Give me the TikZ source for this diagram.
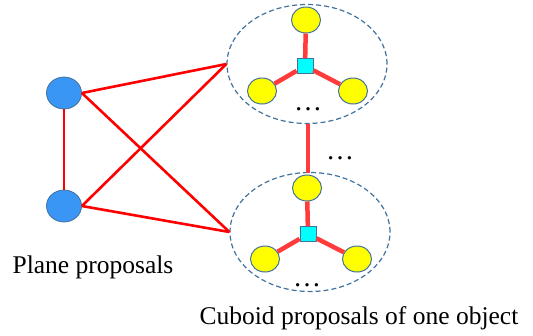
\documentclass[tikz,border=0pt]{standalone}
\usepackage{fontspec}
\setmainfont{Liberation Serif}
\usetikzlibrary{shapes.geometric}
\definecolor{edgeblue}{HTML}{41719C}
\definecolor{planeblue}{HTML}{3A96F5}
\definecolor{linkred}{HTML}{FF0000}
\definecolor{cubred}{HTML}{FF3B3B}
\definecolor{hubcyan}{HTML}{00FFFF}
\definecolor{cornyellow}{HTML}{FFFF00}
\begin{document}
\begin{tikzpicture}[x=1pt,y=-1pt,
  plane/.style={ellipse,draw=edgeblue,fill=planeblue,line width=0.8pt,minimum width=35pt,minimum height=32pt,inner sep=0pt},
  corner/.style={ellipse,draw=edgeblue,fill=cornyellow,line width=1pt,minimum width=29pt,minimum height=26pt,inner sep=0pt},
  hub/.style={rectangle,draw=edgeblue,fill=hubcyan,line width=0.8pt,minimum width=16pt,minimum height=15pt,inner sep=0pt},
  group/.style={ellipse,draw=edgeblue,dash pattern=on 5pt off 3pt,line width=1.2pt,minimum width=160pt,minimum height=119pt,inner sep=0pt},
  rel/.style={linkred,line width=2.6pt},
  arm/.style={cubred,line width=4.5pt},
  dots/.style={font=\fontsize{28}{28}\selectfont,inner sep=0pt,anchor=base},
  label/.style={font=\fontsize{25.5}{28}\selectfont,inner sep=0pt}]
\useasboundingbox (0,0) rectangle (533,335);
% object groups
\node[group] (g1) at (307,64) {};
\node[group] (g2) at (310,232) {};
% first cuboid proposal
\node[hub] (h1) at (305,66) {};
\node[corner] (a1) at (306,20) {};
\node[corner] (b1) at (262,91) {};
\node[corner] (c1) at (353,91) {};
\draw[arm] (h1) -- (a1);
\draw[arm] (h1) -- (b1);
\draw[arm] (h1) -- (c1);
\node[dots] (d1) at (308,110) {…};
% second cuboid proposal
\node[hub] (h2) at (308,234) {};
\node[corner] (a2) at (307,188) {};
\node[corner] (b2) at (265,259) {};
\node[corner] (c2) at (357,259) {};
\draw[arm] (h2) -- (a2);
\draw[arm] (h2) -- (b2);
\draw[arm] (h2) -- (c2);
\node[dots] (d2) at (307,286) {…};
% link between groups
\coordinate (g1b) at (308,124);
\coordinate (g2t) at (308,173);
\draw[arm,line width=3.8pt] (g1b) -- (g2t);
\node[dots] (dm) at (340,159) {…};
% plane proposals
\node[plane] (p1) at (64,93) {};
\node[plane] (p2) at (64,206) {};
\draw[rel] (p1) -- (p2);
\draw[rel] (p1.east) -- (g1.west);
\draw[rel] (p1.east) -- (g2.west);
\draw[rel] (p2.east) -- (g1.west);
\draw[rel] (p2.east) -- (g2.west);
% captions
\node[label] (t1) at (93,267) {Plane proposals};
\node[label] (t2) at (359,318) {Cuboid proposals of one object};
\end{tikzpicture}
\end{document}
